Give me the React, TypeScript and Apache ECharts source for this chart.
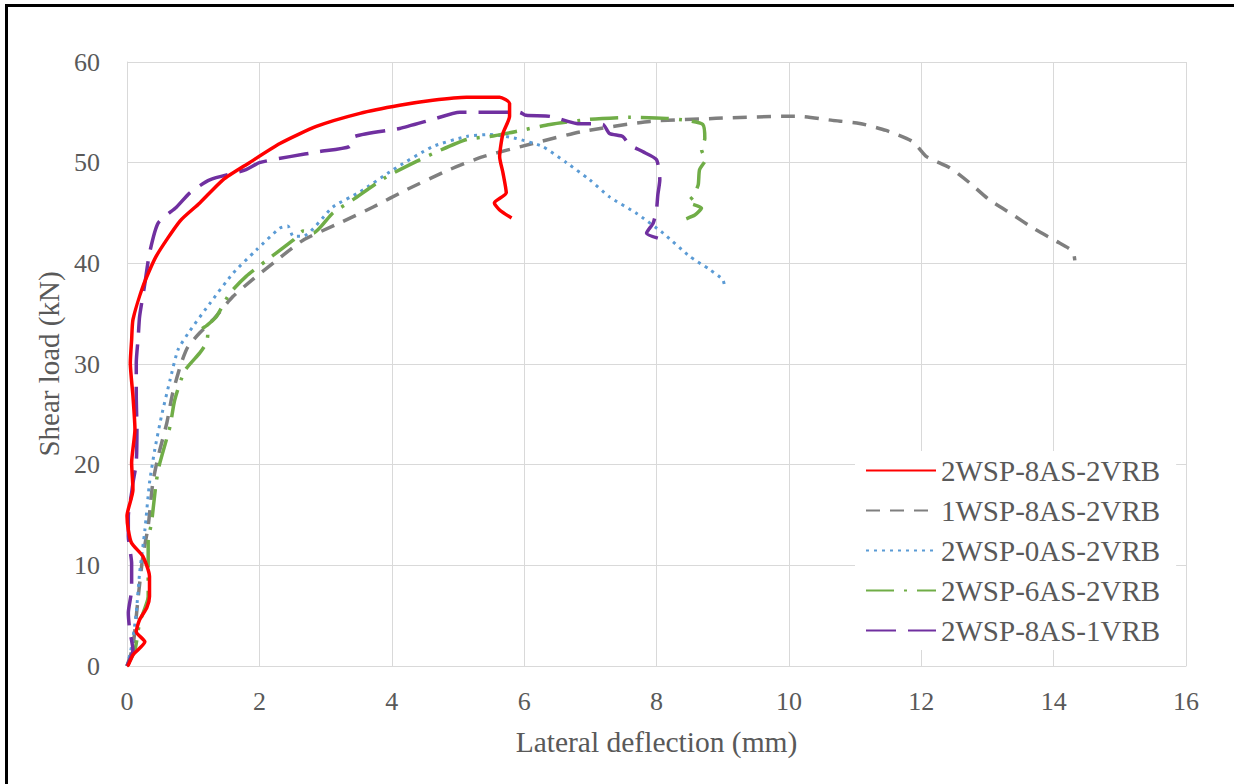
import React, { useEffect, useRef } from "react";
import * as echarts from "echarts";

// Lateral deflection (mm) vs shear load (kN) for each specimen
const seriesNames = [
  "2WSP-8AS-2VRB",
  "1WSP-8AS-2VRB",
  "2WSP-0AS-2VRB",
  "2WSP-6AS-2VRB",
  "2WSP-8AS-1VRB",
];

const wsp8as2vrb: number[][] = [
  [0, 0], [0.02, 0.1], [0.09, 1.1], [0.27, 2.4], [0.14, 3.4], [0.19, 4.6], [0.3, 5.8],
  [0.34, 6.9], [0.34, 8.9], [0.24, 10.9], [0.07, 12.2], [0.02, 13.5], [0, 14.9],
  [0.09, 17.5], [0.07, 20.2], [0.12, 23.5], [0.09, 26.8], [0.05, 30.1], [0.07, 32.4],
  [0.09, 34.4], [0.24, 37.7], [0.44, 40.7], [0.8, 44.2], [1.1, 46.0], [1.45, 48.3],
  [1.85, 50.0], [2.31, 51.9], [2.86, 53.6], [3.52, 54.9], [4.12, 55.7], [4.62, 56.2],
  [5.13, 56.5], [5.63, 56.5], [5.78, 55.9], [5.78, 54.6], [5.68, 52.9], [5.63, 50.6],
  [5.68, 49.0], [5.73, 47.0], [5.55, 46.0], [5.63, 45.3], [5.81, 44.5],
];

const wsp1as8vrb2: number[][] = [
  [0, 0], [0.09, 1.95], [0.17, 6.9], [0.24, 10.9], [0.32, 13.9], [0.39, 18.2],
  [0.47, 20.8], [0.6, 24.1], [0.69, 27.1], [0.82, 30.1], [0.92, 31.7], [1.1, 33.1],
  [1.3, 34.4], [1.6, 36.7], [1.9, 38.4], [2.26, 40.3], [2.66, 42.3], [3.21, 44.0],
  [3.72, 45.6], [4.22, 47.3], [4.87, 49.3], [5.38, 50.6], [6.13, 51.9], [6.88, 53.1],
  [7.9, 54.1], [8.9, 54.4], [9.91, 54.6], [10.16, 54.6], [10.66, 54.2], [11.07, 53.9],
  [11.47, 53.2], [11.87, 52.1], [12.08, 50.6], [12.43, 49.5], [12.73, 48.0],
  [13.03, 46.3], [13.39, 44.8], [13.69, 43.5], [14.04, 42.2], [14.29, 41.2], [14.32, 40.3],
];

const wsp0as2vrb: number[][] = [
  [0, 0], [0.07, 1.95], [0.14, 5.3], [0.19, 9.2], [0.27, 13.5], [0.34, 18.2],
  [0.42, 21.5], [0.52, 24.8], [0.65, 28.4], [0.77, 31.4], [0.95, 33.3], [1.25, 36.0],
  [1.6, 39.0], [1.95, 41.3], [2.31, 43.5], [2.43, 43.7], [2.51, 42.7], [2.66, 42.7],
  [3.11, 45.6], [3.52, 47.1], [4.02, 49.3], [4.62, 51.6], [5.13, 52.6], [5.48, 52.8],
  [5.88, 52.4], [6.28, 51.6], [6.64, 50.0], [6.99, 48.3], [7.29, 46.6], [7.69, 45.0],
  [8.1, 43.0], [8.5, 40.7], [8.8, 39.4], [9.0, 38.4], [9.03, 37.7],
];

const wsp6as2vrb: number[][] = [
  [0, 0], [0.12, 1.6], [0.19, 4.3], [0.32, 6.9], [0.32, 10.2], [0.32, 12.5],
  [0.37, 14.2], [0.44, 18.2], [0.49, 20.0], [0.65, 23.8], [0.72, 26.4], [0.87, 29.3],
  [1.1, 31.1], [1.2, 32.1], [1.22, 32.9], [1.12, 33.4], [1.2, 33.8], [1.35, 34.7],
  [1.55, 37.0], [1.8, 38.7], [2.11, 40.3], [2.51, 42.3], [2.66, 43.2], [2.81, 43.0],
  [3.11, 45.0], [3.41, 46.3], [3.92, 48.6], [4.62, 50.9], [5.13, 52.3], [5.48, 52.6],
  [5.88, 53.1], [6.39, 53.8], [6.99, 54.3], [7.59, 54.5], [8.15, 54.4], [8.45, 54.2],
  [8.7, 53.8], [8.73, 52.4], [8.68, 51.3], [8.74, 50.3], [8.65, 49.3], [8.63, 47.8],
  [8.55, 46.6], [8.47, 46.1], [8.68, 45.5], [8.58, 44.8], [8.4, 44.3],
];

const wsp8as1vrb: number[][] = [
  [0, 0], [0.09, 1.6], [0.04, 3.6], [0.02, 5.3], [0.07, 7.6], [0.07, 10.2], [0.02, 12.9],
  [0.02, 14.9], [0.07, 17.2], [0.09, 18.2], [0.14, 20.2], [0.15, 23.5], [0.14, 26.8],
  [0.14, 30.1], [0.17, 32.7], [0.19, 34.7], [0.27, 38.0], [0.34, 41.0], [0.47, 44.0],
  [0.75, 45.6], [0.95, 47.0], [1.25, 48.3], [1.8, 49.3], [2.0, 50.0], [2.46, 50.6],
  [2.91, 51.1], [3.36, 51.6], [3.44, 52.6], [4.12, 53.4], [4.62, 54.3], [5.03, 55.0],
  [5.93, 55.0], [6.03, 54.7], [6.39, 54.6], [6.79, 53.9], [7.19, 53.8], [7.29, 52.9],
  [7.49, 52.6], [7.59, 51.8], [7.79, 51.1], [8.0, 50.3], [8.05, 48.3], [8.02, 46.8],
  [8.0, 45.3], [7.95, 44.0], [7.85, 43.0], [8.02, 42.5],
];

const xTicks = { min: 0, max: 16, interval: 2 };
const yTicks = { min: 0, max: 60, interval: 10 };

const FONT = "'Liberation Serif', 'Times New Roman', serif";
const TEXT = "#595959";
const GRID = "#d9d9d9";

export default function App() {
  const ref = useRef<HTMLDivElement>(null);

  useEffect(() => {
    document.body.style.margin = "0";
    if (!ref.current) return;
    const chart = echarts.init(ref.current, undefined, { renderer: "svg" });

    const line = (
      name: string,
      data: number[][],
      color: string,
      type: any,
      width: number,
      z: number
    ) => ({
      name,
      type: "line",
      data,
      symbol: "none",
      smooth: 0.2,
      z,
      lineStyle: { color, width, type, cap: "butt", join: "round" },
      itemStyle: { color },
    });

    chart.setOption({
      animation: false,
      backgroundColor: "#ffffff",
      grid: { left: 127, right: 48, top: 62, bottom: 118, containLabel: false },
      xAxis: {
        type: "value",
        ...xTicks,
        name: "Lateral deflection (mm)",
        nameLocation: "middle",
        nameGap: 61,
        nameTextStyle: { fontFamily: FONT, fontSize: 29.5, color: TEXT },
        axisLine: { show: true, lineStyle: { color: GRID, width: 1 } },
        axisTick: { show: false },
        axisLabel: { fontFamily: FONT, fontSize: 26, color: TEXT, margin: 22 },
        splitLine: { show: true, lineStyle: { color: GRID, width: 1 } },
      },
      yAxis: {
        type: "value",
        ...yTicks,
        name: "Shear load (kN)",
        nameLocation: "middle",
        nameGap: 60,
        nameTextStyle: { fontFamily: FONT, fontSize: 29, color: TEXT },
        axisLine: { show: true, lineStyle: { color: GRID, width: 1 } },
        axisTick: { show: false },
        axisLabel: { fontFamily: FONT, fontSize: 26, color: TEXT, margin: 27 },
        splitLine: { show: true, lineStyle: { color: GRID, width: 1 } },
      },
      legend: {
        orient: "vertical",
        left: 855,
        top: 451,
        data: seriesNames,
        backgroundColor: "#ffffff",
        padding: [5, 16, 5, 10],
        itemWidth: 70,
        itemHeight: 14,
        itemGap: 11,
        itemStyle: { opacity: 0 },
        textStyle: { fontFamily: FONT, fontSize: 29, color: TEXT },
      },
      graphic: [
        {
          type: "line",
          shape: { x1: 6.5, y1: 4, x2: 6.5, y2: 784 },
          style: { stroke: "#000", lineWidth: 3 },
        },
        {
          type: "line",
          shape: { x1: 5, y1: 5.5, x2: 1234, y2: 5.5 },
          style: { stroke: "#000", lineWidth: 3 },
        },
      ],
      series: [
        line(seriesNames[1], wsp1as8vrb2, "#7f7f7f", [14, 10], 3.5, 2),
        line(seriesNames[2], wsp0as2vrb, "#5b9bd5", [3, 5], 3, 3),
        line(seriesNames[3], wsp6as2vrb, "#70ad47", [28, 10, 3, 10], 3.5, 4),
        line(seriesNames[4], wsp8as1vrb, "#7030a0", [30, 12], 3.5, 5),
        line(seriesNames[0], wsp8as2vrb, "#ff0000", "solid", 3.5, 6),
      ],
    });

    return () => chart.dispose();
  }, []);

  return <div ref={ref} style={{ width: 1234, height: 784 }} />;
}
